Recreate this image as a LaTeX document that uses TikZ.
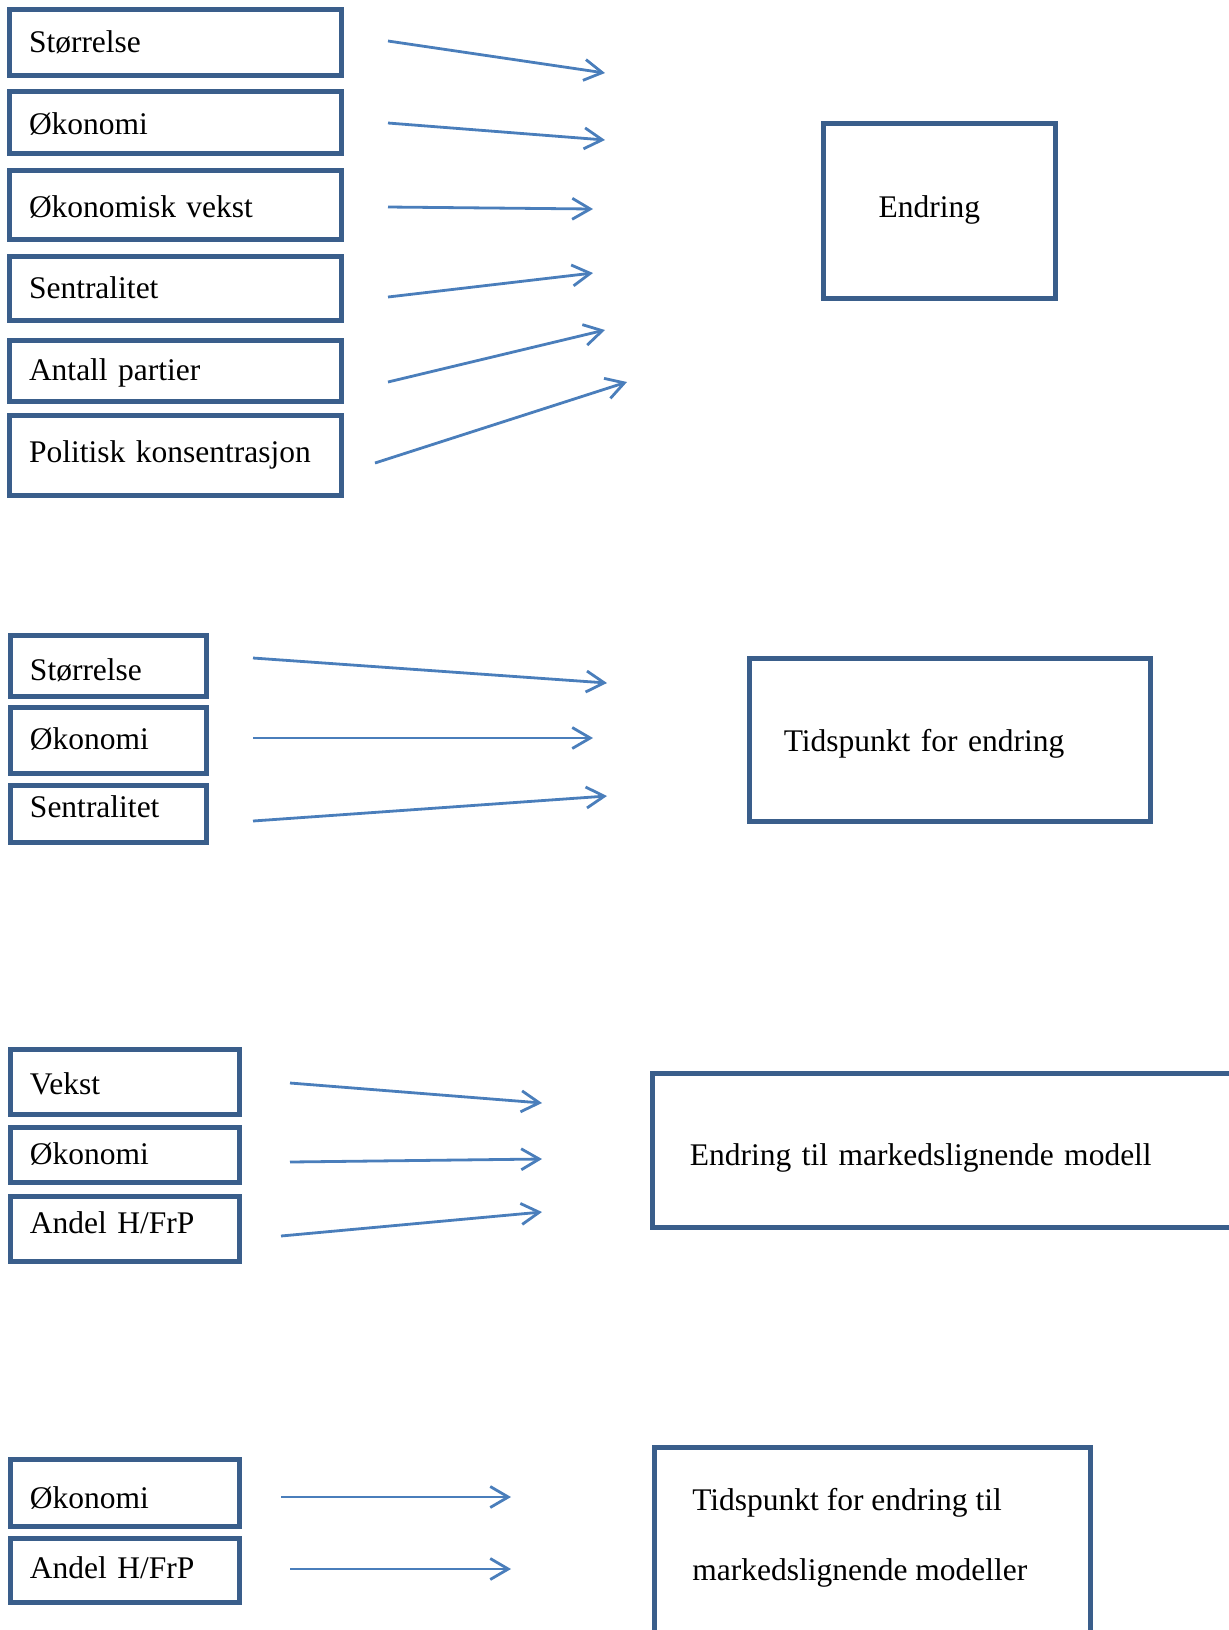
\documentclass[tikz,border=0pt]{standalone}
\usepackage{fontspec}
\setmainfont{Liberation Serif}
\usetikzlibrary{arrows.meta}
\definecolor{boxblue}{RGB}{58,94,139}
\definecolor{arrowblue}{RGB}{74,126,187}
\begin{document}
\begin{tikzpicture}[x=0.5pt,y=-0.5pt,
  every node/.style={font=\fontsize{15.75pt}{18pt}\selectfont, text=black},
  framebox/.style={draw=boxblue, line width=2.5pt, rectangle, inner ysep=0pt},
  onebox/.style={framebox, align=left, text height=12pt, text depth=1.6pt},
  smallbox/.style={onebox, inner xsep=10pt},
  tdown/.style={text height=12pt+#1pt},
  conn/.style={draw=arrowblue, line width=1.4pt, -{Straight Barb[length=9pt,width=10.5pt]}}
]
\useasboundingbox (0,0) rectangle (1229,1630);
\clip (0,0) rectangle (1229,1630);

% ---------- Section 1 ----------
\node[smallbox, text width=146pt, minimum height=33pt]                  (n11) at (175,42)    {Størrelse};
\node[smallbox, text width=146pt, minimum height=31pt, tdown=2]         (n12) at (175,122)   {Økonomi};
\node[smallbox, text width=146pt, minimum height=34.5pt, tdown=2.5]     (n13) at (175,204.5) {Økonomisk vekst};
\node[smallbox, text width=146pt, minimum height=32pt]                  (n14) at (175,288)   {Sentralitet};
\node[smallbox, text width=146pt, minimum height=30.5pt]                (n15) at (175,370.5) {Antall partier};
\node[smallbox, text width=146pt, minimum height=40pt, tdown=-2.5]      (n16) at (175,455)   {Politisk konsentrasjon};
\node[onebox, inner xsep=27.8pt, text width=60.4pt, minimum height=87.5pt, tdown=-3.5] (e1) at (939,210.5) {Endring};

\coordinate (a1s) at (388,41);  \coordinate (a1e) at (605,73);
\coordinate (a2s) at (388,123); \coordinate (a2e) at (605,140);
\coordinate (a3s) at (388,207); \coordinate (a3e) at (593,209);
\coordinate (a4s) at (388,297); \coordinate (a4e) at (593,273);
\coordinate (a5s) at (388,382); \coordinate (a5e) at (605,330);
\coordinate (a6s) at (375,463); \coordinate (a6e) at (627,382);
\foreach \i in {1,...,6} {\draw[conn] (a\i s) -- (a\i e);}

% ---------- Section 2 ----------
\node[smallbox, text width=78pt, minimum height=30.5pt, tdown=4.5]  (n21) at (108,665.5) {Størrelse};
\node[smallbox, text width=78pt, minimum height=33pt, tdown=-1]     (n22) at (108,740)   {Økonomi};
\node[smallbox, text width=78pt, minimum height=28.5pt, tdown=-6.5] (n23) at (108,813.5) {Sentralitet};
\node[onebox, inner xsep=17.4pt, text width=165.7pt, minimum height=81.5pt, tdown=1.5] (e2) at (949.5,739.5) {Tidspunkt for endring};

\coordinate (b1s) at (253,658); \coordinate (b1e) at (607,683);
\coordinate (b2s) at (253,738); \coordinate (b2e) at (593,738);
\coordinate (b3s) at (253,821); \coordinate (b3e) at (607,796);
\foreach \i in {1,2,3} {\draw[conn] (b\i s) -- (b\i e);}

% ---------- Section 3 ----------
\node[smallbox, text width=94.5pt, minimum height=32.5pt, tdown=2.5]  (n31) at (124.5,1081.5) {Vekst};
\node[smallbox, text width=94.5pt, minimum height=27.5pt]             (n32) at (124.5,1154.5) {Økonomi};
\node[smallbox, text width=94.5pt, minimum height=32.5pt, tdown=-5.5] (n33) at (124.5,1228.5) {Andel H/FrP};
\node[onebox, inner xsep=18.9pt, text width=296.2pt, minimum height=77pt, tdown=5.5] (e3) at (986,1150) {Endring til markedslignende modell};

\coordinate (c1s) at (290,1083); \coordinate (c1e) at (542,1103);
\coordinate (c2s) at (290,1162); \coordinate (c2e) at (542,1159);
\coordinate (c3s) at (281,1236); \coordinate (c3e) at (542,1212);
\foreach \i in {1,2,3} {\draw[conn] (c\i s) -- (c\i e);}

% ---------- Section 4 ----------
\node[smallbox, text width=94.5pt, minimum height=33.5pt, tdown=5.5] (n41) at (124.5,1492.5) {Økonomi};
\node[smallbox, text width=94.5pt, minimum height=32pt, tdown=-2]    (n42) at (124.5,1570)   {Andel H/FrP};
\node[framebox, anchor=north west, inner xsep=18.9pt] (e4) at (652,1445)
  {\parbox[t][150pt][t]{180.2pt}{\setlength{\baselineskip}{35pt}\rule{0pt}{31.5pt}Tidspunkt for endring til\\markedslignende modeller\par}};

\coordinate (d1s) at (281,1497); \coordinate (d1e) at (511,1497);
\coordinate (d2s) at (290,1569); \coordinate (d2e) at (511,1569);
\foreach \i in {1,2} {\draw[conn] (d\i s) -- (d\i e);}
\end{tikzpicture}
\end{document}
